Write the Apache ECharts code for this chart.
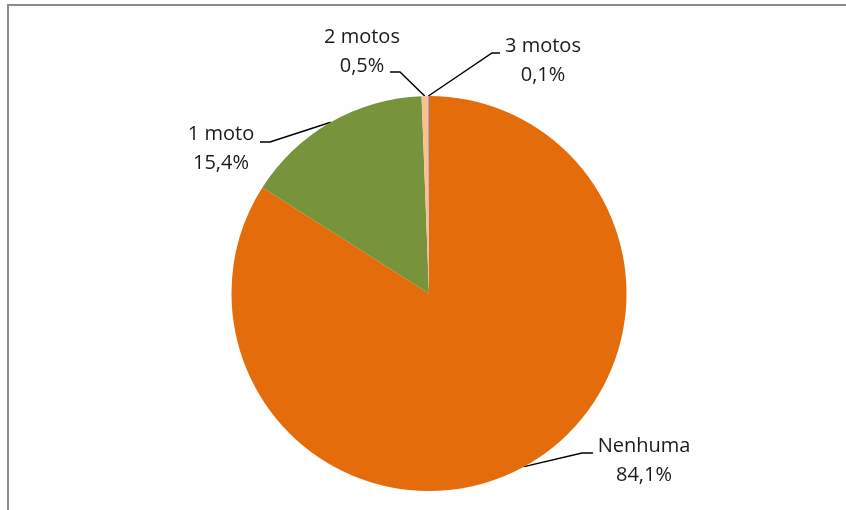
<!DOCTYPE html>
<html>
<head>
<meta charset="utf-8">
<script src="https://cdn.jsdelivr.net/npm/echarts@6/dist/echarts.min.js"></script>
<style>
  html, body { margin: 0; padding: 0; background: #fff; }
  #main { width: 846px; height: 510px; }
</style>
</head>
<body>
<div id="main"></div>
<script>
var categories = ['Nenhuma', '1 moto', '2 motos', '3 motos']
var values = [84.1, 15.4, 0.5, 0.1]
var colors = ['#E46C0A', '#77933C', '#FAC090', '#9DA7D0']

// where each label sits, and where its line bends / ends (Excel style)
var labelPos = {
    'Nenhuma': { x: 644, y: 461, bend: [582, 453], end: [593, 453] },
    '1 moto': { x: 221, y: 149, bend: [270, 142], end: [260, 142] },
    '2 motos': { x: 362, y: 52, bend: [400, 72], end: [390, 72] },
    '3 motos': { x: 543, y: 61, bend: [492, 53], end: [500, 53] }
}

var myChart = echarts.init(document.getElementById('main'))

var data = categories.map(function (c, i) {
    return { name: c, value: values[i], itemStyle: { color: colors[i] } }
})

myChart.setOption({
    animation: false,
    graphic: [{
        type: 'rect',
        shape: { x: 8, y: 5, width: 900, height: 600 },
        style: { fill: 'none', stroke: '#8c8c8c', lineWidth: 2 },
        silent: true
    }],
    series: [{
        type: 'pie',
        center: [429, 293.5],
        radius: 197.5,
        startAngle: 90,
        clockwise: true,
        data: data,
        itemStyle: { borderWidth: 0 },
        label: {
            show: true,
            position: 'outside',
            fontFamily: 'Open Sans',
            fontSize: 20,
            lineHeight: 29,
            color: '#1a1a1a',
            align: 'center',
            formatter: function (p) {
                return p.name + '\n' + p.value.toFixed(1).replace('.', ',') + '%'
            }
        },
        labelLine: {
            show: true,
            length: 20,
            length2: 10,
            lineStyle: { color: '#000', width: 1.5 }
        },
        labelLayout: function (params) {
            var name = categories[params.dataIndex]
            var lp = labelPos[name]
            var p0 = params.labelLinePoints ? params.labelLinePoints[0] : lp.bend
            return {
                x: lp.x,
                y: lp.y,
                align: 'center',
                verticalAlign: 'middle',
                labelLinePoints: [p0, lp.bend, lp.end]
            }
        }
    }]
})
</script>
</body>
</html>
